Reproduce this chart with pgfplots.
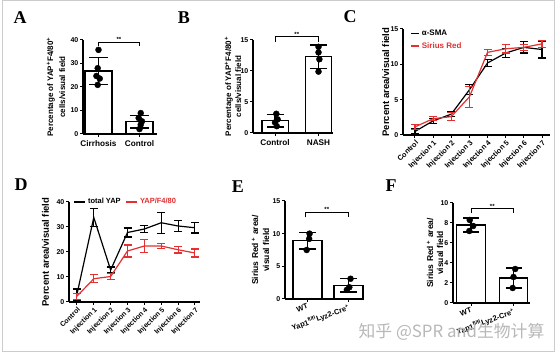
\documentclass[border=0pt]{standalone}
\usepackage{pgfplots}
\pgfplotsset{compat=1.18}
\usepackage{fontspec}
\setmainfont{Liberation Sans}
\newfontfamily\serifbf{Liberation Serif}
\newfontfamily\cjk{Noto Sans CJK SC}
\definecolor{pred}{RGB}{228,48,48}
\pgfplotsset{
  prism/.style={
    scale only axis,
    anchor=south west,
    axis lines=left,
    axis line style={line width=1.1pt,-},
    every tick/.style={line width=1pt,black},
    tick align=outside,
    major tick length=3pt,
    tick label style={font=\fontsize{7}{8}\selectfont\bfseries},
    yticklabel style={inner sep=1.5pt},
    /pgf/number format/assume math mode=true,
    clip=false,
    ylabel style={anchor=center, align=center},
  },
  barerr/.style={error bars/.cd, y dir=both, y explicit, error mark=|,
    error bar style={line width=1.5pt, black},
    error mark options={mark size=#1, line width=1.5pt, black}},
  lineerr/.style={error bars/.cd, y dir=both, y explicit, error mark=|,
    error bar style={line width=1.1pt},
    error mark options={mark size=4pt, line width=1.1pt}},
}
\begin{document}
\begin{tikzpicture}
\path[use as bounding box] (0pt,0pt) rectangle (557pt,356pt);
\fill[white] (0pt,0pt) rectangle (557pt,356pt);
\draw[black!20, line width=1pt] (2pt,4pt) rectangle (554pt,355pt);

% panel letters
\foreach \L/\X/\Y in {A/20/338, B/184/338, C/350/339, D/21/171, E/238/169, F/391/170}{
  \node[font=\serifbf\bfseries\fontsize{18}{18}\selectfont] at (\X pt,\Y pt) {\L};
}

% ---------- A ----------
\begin{axis}[prism, at={(83pt,222pt)}, width=74pt, height=94pt,
  xmin=0.622, xmax=2.427, ymin=0, ymax=40, ytick={0,10,20,30,40},
  xtick={1,2}, xticklabels={Cirrhosis,Control},
  xticklabel style={font=\fontsize{8.2}{9}\selectfont\bfseries},
  ylabel={Percentage of YAP\textsuperscript{+}F4/80\textsuperscript{+}\\cells/visual field},
  ylabel style={at={(axis description cs:-0.365,0.5)}, font=\fontsize{8}{12}\selectfont\bfseries}]
\addplot[ybar, bar width=0.66, fill=white, draw=black, line width=1.1pt, barerr=9.5pt]
  coordinates {(1,26.8) +- (0,5.7) (2,5.2) +- (0,2.6)};
\addplot[only marks, mark=*, mark size=3pt, black]
  coordinates {(1.0,35.8) (0.98,28) (0.95,24.7) (1.03,23.6) (0.98,20.9)
               (2.03,8.9) (1.98,6.8) (2.06,5.4) (2.03,4.0) (2.0,2.1)};
\addplot[black, line width=1pt, mark=none] coordinates {(1,37.4) (1,39.1) (2,39.1) (2,37.4)};
\node[font=\fontsize{6}{6}\selectfont\bfseries, anchor=south, inner sep=0.5pt] at (axis cs:1.5,39.1) {**};
\end{axis}

% ---------- B ----------
\begin{axis}[prism, at={(253pt,223pt)}, width=80pt, height=93pt,
  xmin=0.494, xmax=2.333, ymin=0, ymax=15, ytick={0,5,10,15},
  xtick={1,2}, xticklabels={Control,NASH},
  xticklabel style={font=\fontsize{8.2}{9}\selectfont\bfseries},
  ylabel={Percentage of YAP\textsuperscript{+}F4/80\textsuperscript{+}\\cells/visual field},
  ylabel style={at={(axis description cs:-0.25,0.5)}, font=\fontsize{8}{10}\selectfont\bfseries}]
\addplot[ybar, bar width=0.6, fill=white, draw=black, line width=1.1pt, barerr=8.5pt]
  coordinates {(1,2.0) +- (0,1.0) (2,12.3) +- (0,1.9)};
\addplot[only marks, mark=*, mark size=3pt, black]
  coordinates {(1.03,3.1) (1.06,2.2) (1.0,1.7) (1.04,1.1)
               (2.0,13.9) (2.0,13.0) (2.02,11.9) (2.0,9.9)};
\addplot[black, line width=1pt, mark=none] coordinates {(1,14.7) (1,15.5) (2,15.5) (2,14.7)};
\node[font=\fontsize{6}{6}\selectfont\bfseries, anchor=south, inner sep=0.5pt] at (axis cs:1.5,15.5) {**};
\end{axis}

% ---------- C ----------
\begin{axis}[prism, at={(403pt,221pt)}, width=147pt, height=106pt,
  xmin=-0.66, xmax=7.44, ymin=0, ymax=15, ytick={0,5,10,15},
  xtick={0,...,7},
  xticklabels={Control,Injection 1,Injection 2,Injection 3,Injection 4,Injection 5,Injection 6,Injection 7},
  xticklabel style={rotate=45, anchor=north east, inner sep=1pt, font=\fontsize{7.3}{7}\selectfont\bfseries},
  ylabel={Percent area/visual field},
  ylabel style={at={(axis description cs:-0.118,0.5)}, font=\fontsize{9.5}{10}\selectfont\bfseries},
  legend style={at={(axis description cs:0.05,1.01)}, anchor=north west, draw=none, fill=none,
    font=\fontsize{8}{9}\selectfont\bfseries, row sep=1pt, inner sep=0pt},
  legend cell align=left,
  legend image code/.code={\draw[#1, line width=1.3pt] (0pt,0pt) -- (8pt,0pt);}]
\addplot[black, line width=1.2pt, mark=none, lineerr]
  coordinates {(0,0.5) +- (0,0.35) (1,2.0) +- (0,0.35) (2,2.95) +- (0,0.35) (3,6.4) +- (0,0.7)
               (4,10.2) +- (0,0.45) (5,11.6) +- (0,0.6) (6,12.4) +- (0,0.8) (7,12.1) +- (0,1.2)};
\addlegendentry{α-SMA}
\addplot[pred, line width=1.2pt, mark=none, lineerr]
  coordinates {(0,1.15) +- (0,0.35) (1,2.3) +- (0,0.3) (2,2.6) +- (0,0.6) (3,5.4) +- (0,1.5)
               (4,11.7) +- (0,0.4) (5,12.2) +- (0,0.6) (6,12.4) +- (0,0.4) (7,12.9) +- (0,0.5)};
\addlegendentry{\textcolor{pred}{Sirius Red}}
\end{axis}

% ---------- D ----------
\begin{axis}[prism, at={(69pt,54pt)}, width=131pt, height=100pt,
  xmin=-0.47, xmax=7.3, ymin=0, ymax=40, ytick={0,10,20,30,40},
  xtick={0,...,7},
  xticklabels={Control,Injection 1,Injection 2,Injection 3,Injection 4,Injection 5,Injection 6,Injection 7},
  xticklabel style={rotate=45, anchor=north east, inner sep=1pt, font=\fontsize{7}{7}\selectfont\bfseries},
  ylabel={Percent area/visual field},
  ylabel style={at={(axis description cs:-0.18,0.5)}, font=\fontsize{9.5}{10}\selectfont\bfseries},
  legend columns=2,
  legend style={at={(axis description cs:0.035,1.0)}, anchor=west, draw=none, fill=none,
    font=\fontsize{7.5}{8}\selectfont\bfseries, inner sep=0pt,
    /tikz/every even column/.append style={column sep=3pt}},
  legend image code/.code={\draw[#1, line width=1.3pt] (0pt,0pt) -- (11pt,0pt);}]
\addplot[black, line width=1.2pt, mark=none, lineerr]
  coordinates {(0,3.0) +- (0,2.2) (1,33.8) +- (0,3.5) (2,12.8) +- (0,1.2) (3,27.8) +- (0,1.8)
               (4,29.2) +- (0,1.4) (5,31.7) +- (0,4.2) (6,30.4) +- (0,2.3) (7,29.7) +- (0,2.1)};
\addlegendentry{total YAP}
\addplot[pred, line width=1.2pt, mark=none, lineerr]
  coordinates {(0,2.3) +- (0,1.2) (1,9.3) +- (0,1.6) (2,10.2) +- (0,1.2) (3,20.4) +- (0,2.4)
               (4,22.4) +- (0,2.6) (5,22.4) +- (0,0.9) (6,20.9) +- (0,1.3) (7,19.6) +- (0,1.6)};
\addlegendentry{\textcolor{pred}{YAP/F4/80}}
\end{axis}

% ---------- E ----------
\begin{axis}[prism, at={(285pt,57pt)}, width=78pt, height=98pt,
  xmin=0.451, xmax=2.354, ymin=0, ymax=15, ytick={0,5,10,15},
  xtick={1,2}, xticklabels={WT,Yap1\textsuperscript{fl/fl}Lyz2-Cre\textsuperscript{+}},
  xticklabel style={rotate=20, anchor=north east, inner sep=1pt, font=\fontsize{7.5}{8}\selectfont\bfseries},
  ylabel={Sirius Red\textsuperscript{ +} area/\\visual field},
  ylabel style={at={(axis description cs:-0.314,0.5)}, font=\fontsize{8.5}{11}\selectfont\bfseries}]
\addplot[ybar, bar width=0.707, fill=white, draw=black, line width=1.1pt, barerr=8.5pt]
  coordinates {(1,8.9) +- (0,1.25) (2,2.1) +- (0,1.0)};
\addplot[only marks, mark=*, mark size=3pt, black]
  coordinates {(1.05,10.0) (1.04,9.2) (0.98,7.5) (2.05,3.1) (2.02,1.8) (1.96,1.4)};
\addplot[black, line width=1pt, mark=none] coordinates {(0.95,12.5) (0.95,13.3) (2.0,13.3) (2.0,12.5)};
\node[font=\fontsize{6}{6}\selectfont\bfseries, anchor=south, inner sep=0.5pt] at (axis cs:1.47,13.3) {**};
\end{axis}

% ---------- F ----------
\begin{axis}[prism, at={(453pt,53pt)}, width=77pt, height=100pt,
  xmin=0.576, xmax=2.388, ymin=0, ymax=10, ytick={0,2,4,6,8,10},
  xtick={1,2}, xticklabels={WT,Yap1\textsuperscript{fl/fl}Lyz2-Cre\textsuperscript{+}},
  xticklabel style={rotate=20, anchor=north east, inner sep=1pt, font=\fontsize{7.5}{8}\selectfont\bfseries},
  ylabel={Sirius Red\textsuperscript{ +} area/\\visual field},
  ylabel style={at={(axis description cs:-0.234,0.5)}, font=\fontsize{8.5}{10}\selectfont\bfseries}]
\addplot[ybar, bar width=0.67, fill=white, draw=black, line width=1.1pt, barerr=8pt]
  coordinates {(1,7.8) +- (0,0.7) (2,2.5) +- (0,1.0)};
\addplot[only marks, mark=*, mark size=3pt, black]
  coordinates {(0.97,8.3) (1.05,7.7) (0.96,7.2) (2.04,3.4) (2.0,2.6) (1.98,1.5)};
\addplot[black, line width=1pt, mark=none] coordinates {(1,9.0) (1,9.4) (2,9.4) (2,9.0)};
\node[font=\fontsize{6}{6}\selectfont\bfseries, anchor=south, inner sep=0.5pt] at (axis cs:1.5,9.4) {**};
\end{axis}

% watermark
\node[font=\cjk\fontsize{16.8}{17}\selectfont, text=black!28, anchor=center] at (451.5pt,24pt) {知乎 @SPR and生物计算};
\end{tikzpicture}
\end{document}
